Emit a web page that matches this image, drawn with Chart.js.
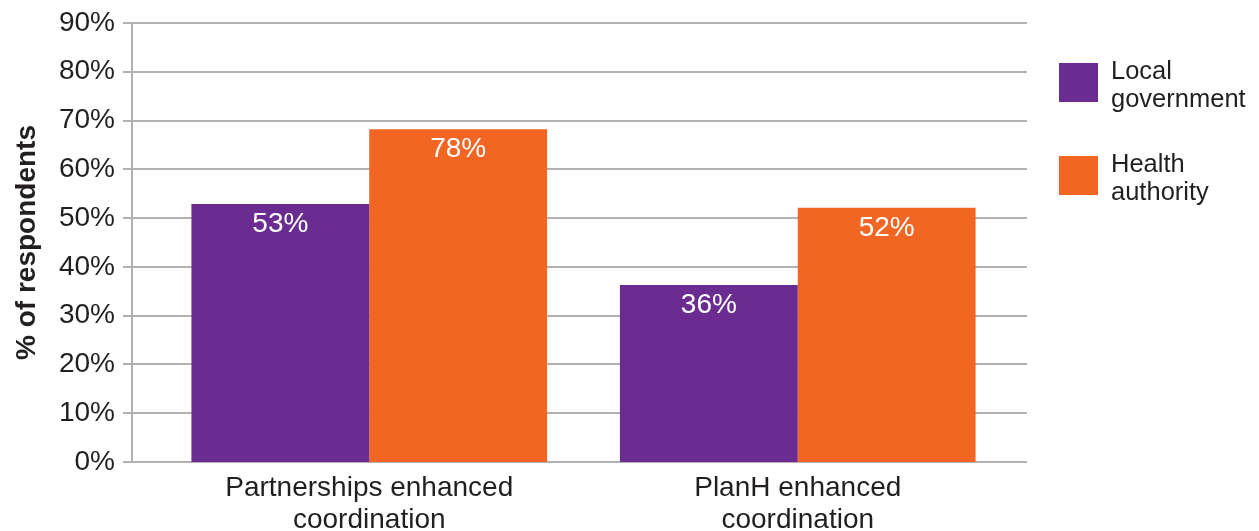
<!DOCTYPE html>
<html>
<head>
<meta charset="utf-8">
<script src="https://cdn.jsdelivr.net/npm/chart.js@4.4.0/dist/chart.umd.min.js"></script>
<style>
  body { margin: 0; background: #fff; font-family: "Liberation Sans", Arial, sans-serif; }
  #wrap { position: relative; width: 1259px; height: 531px; }
  .key { position: absolute; left: 1059px; display: flex; align-items: flex-start; color: #231f20; font-size: 25.5px; line-height: 28px; }
  .key span.sw { width: 39px; height: 39px; margin-right: 13px; margin-top: 7px; }
</style>
</head>
<body>
<div id="wrap">
  <canvas id="chart" width="1259" height="531"></canvas>
  <div id="legend"></div>
</div>
<script>
// categories and series
const categories = [["Partnerships enhanced", "coordination"], ["PlanH enhanced", "coordination"]];
const seriesNames = [["Local", "government"], ["Health", "authority"]];
const localGov = [52.9, 36.3];
const healthAuth = [68.2, 52.1];
// labels as printed on the bars
const localGovText = ["53%", "36%"];
const healthAuthText = ["78%", "52%"];
const colors = ["#6a2c91", "#f26522"];

const textColor = "#231f20";
const gridColor = "#b1b1b1";
const fontFamily = '"Liberation Sans", Arial, sans-serif';

//draws gridlines that reach past the plot, plus the left axis line
const gridPlugin = {
  id: "gridLines",
  beforeDatasetsDraw(chart) {
    const ctx = chart.ctx;
    const y = chart.scales.y;
    const area = chart.chartArea;
    const axisX = area.left - 23;
    ctx.save();
    ctx.strokeStyle = gridColor;
    ctx.lineWidth = 2;
    y.ticks.forEach((t) => {
      const py = Math.round(y.getPixelForValue(t.value));
      ctx.beginPath();
      ctx.moveTo(axisX - 9, py);
      ctx.lineTo(area.right + 15, py);
      ctx.stroke();
    });
    ctx.beginPath();
    ctx.moveTo(axisX, y.getPixelForValue(y.max));
    ctx.lineTo(axisX, y.getPixelForValue(0));
    ctx.stroke();
    ctx.restore();
  },
};

//white value text inside top of each bar
const valuePlugin = {
  id: "barValues",
  afterDatasetsDraw(chart) {
    const ctx = chart.ctx;
    ctx.save();
    ctx.fillStyle = "#ffffff";
    ctx.font = "28px " + fontFamily;
    ctx.textAlign = "center";
    ctx.textBaseline = "middle";
    chart.data.datasets.forEach((ds, i) => {
      chart.getDatasetMeta(i).data.forEach((bar, j) => {
        ctx.fillText(ds.valueText[j], bar.x, bar.y + 20);
      });
    });
    ctx.restore();
  },
};

new Chart(document.getElementById("chart"), {
  type: "bar",
  plugins: [gridPlugin, valuePlugin],
  data: {
    labels: categories,
    datasets: [
      { label: seriesNames[0].join(" "), data: localGov, valueText: localGovText, backgroundColor: colors[0] },
      { label: seriesNames[1].join(" "), data: healthAuth, valueText: healthAuthText, backgroundColor: colors[1] },
    ],
  },
  options: {
    responsive: false,
    animation: false,
    layout: { padding: { top: 23, right: 247, left: 0, bottom: 0 } },
    datasets: { bar: { categoryPercentage: 0.83, barPercentage: 1.0 } },
    plugins: { legend: { display: false }, tooltip: { enabled: false } },
    scales: {
      x: {
        grid: { display: false, drawTicks: false },
        border: { display: false },
        ticks: { color: textColor, font: { size: 28, family: fontFamily, lineHeight: 1.14 }, padding: 10, maxRotation: 0 },
        afterFit(scale) { scale.height = 69; },
      },
      y: {
        min: 0,
        max: 90,
        grid: { display: false, drawTicks: false },
        border: { display: false },
        ticks: {
          stepSize: 10,
          color: textColor,
          padding: 40,
          font: { size: 28, family: fontFamily },
          callback: (v) => v + "%",
        },
        title: {
          display: true,
          text: "% of respondents",
          color: textColor,
          font: { size: 28, weight: "bold", family: fontFamily },
          padding: { top: 10, bottom: 0 },
        },
        afterFit(scale) {
          scale.width = 155;
          scale.paddingTop = 0;
          scale.paddingBottom = 0;
        },
      },
    },
  },
});

//legend to the right of the plot
const legend = document.getElementById("legend");
const keyTops = [56, 149];
seriesNames.forEach((name, i) => {
  const d = document.createElement("div");
  d.className = "key";
  d.style.top = keyTops[i] + "px";
  d.innerHTML = '<span class="sw" style="background:' + colors[i] + '"></span><div>' + name.join("<br>") + "</div>";
  legend.appendChild(d);
});
</script>
</body>
</html>
